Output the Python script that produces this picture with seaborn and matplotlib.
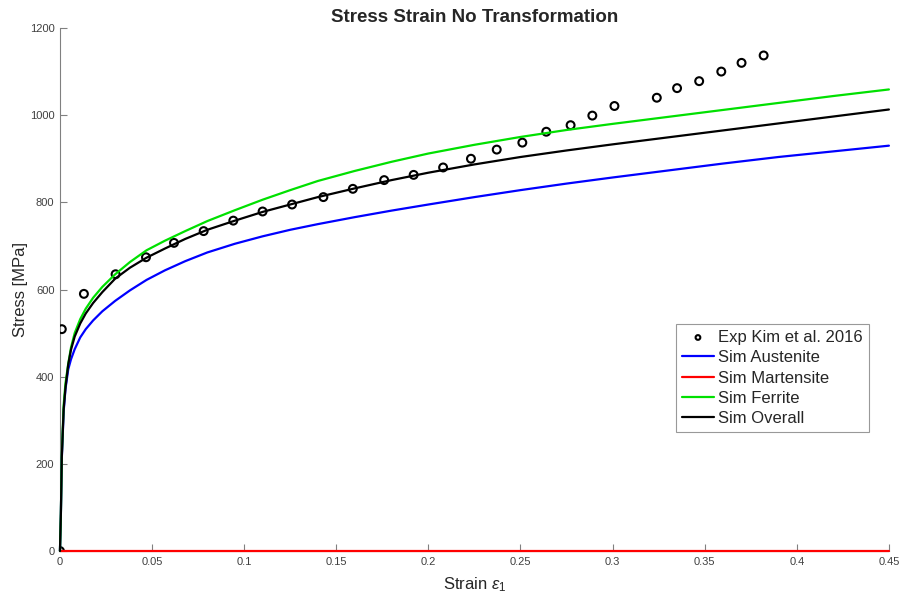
import matplotlib
matplotlib.use("Agg")
import matplotlib.pyplot as plt
import seaborn as sns
import pandas as pd

# Experimental data (Kim et al. 2016)
exp_strain = [0.0, 0.001, 0.013, 0.0302, 0.0467, 0.0619, 0.078, 0.0941, 0.110, 0.126,
              0.143, 0.159, 0.176, 0.192, 0.208, 0.2231, 0.2371, 0.251, 0.264, 0.2772,
              0.289, 0.301, 0.324, 0.335, 0.347, 0.359, 0.370, 0.382]
exp_stress = [0, 509, 590, 635, 674, 707, 734, 758, 779, 795,
              812, 831, 851, 863, 880, 900, 921, 937, 962, 977,
              999, 1021, 1040, 1062, 1078, 1100, 1120, 1137]

# Simulated curves
sim_strain = [0.0, 0.0005, 0.001, 0.002, 0.003, 0.0045, 0.006, 0.008, 0.011, 0.014,
              0.018, 0.023, 0.03, 0.038, 0.047, 0.057, 0.068, 0.08, 0.095, 0.11,
              0.125, 0.14, 0.16, 0.18, 0.2, 0.225, 0.25, 0.275, 0.3, 0.33,
              0.36, 0.39, 0.42, 0.45]
austenite = [0, 85, 212, 320, 372, 417, 440, 463, 490, 509,
             529, 550, 574, 598, 622, 644, 665, 685, 705, 722,
             737, 750, 766, 781, 795, 812, 828, 843, 857, 873,
             889, 904, 917, 930]
martensite = [0] * len(sim_strain)
ferrite = [0, 85, 220, 335, 385, 430, 467, 500, 532, 556,
           581, 606, 635, 663, 690, 712, 734, 757, 782, 806,
           828, 849, 872, 893, 912, 932, 950, 966, 980, 996,
           1012, 1028, 1044, 1059]
overall = [0, 85, 215, 325, 375, 428, 462, 492, 522, 545,
           569, 594, 625, 650, 673, 694, 716, 737, 758, 778,
           795, 812, 832, 851, 868, 887, 904, 919, 933, 949,
           965, 981, 997, 1013]

series_names = ["Sim Austenite", "Sim Martensite", "Sim Ferrite", "Sim Overall"]
series_colors = ["#0000FF", "#FF0000", "#00E000", "#000000"]

sns.set_style("white")
plt.rcParams["font.family"] = ["Liberation Sans", "DejaVu Sans"]
plt.rcParams["mathtext.fontset"] = "custom"
plt.rcParams["mathtext.it"] = "Liberation Sans:italic"
plt.rcParams["mathtext.rm"] = "Liberation Sans"

fig = plt.figure(figsize=(9.03, 6.02), dpi=100)
ax = fig.add_axes([0.0664, 0.0847, 0.918, 0.8688])

exp_df = pd.DataFrame({"strain": exp_strain, "stress": exp_stress})
sns.scatterplot(data=exp_df, x="strain", y="stress", ax=ax, marker="o", s=32,
                facecolor="none", edgecolor="black", linewidth=1.5,
                label="Exp Kim et al. 2016", zorder=3)

for name, vals, col in zip(series_names, [austenite, martensite, ferrite, overall], series_colors):
    df = pd.DataFrame({"strain": sim_strain, "stress": vals})
    sns.lineplot(data=df, x="strain", y="stress", ax=ax, color=col, linewidth=1.6,
                 label=name, zorder=4, clip_on=False)

ax.set_xlim(0, 0.45)
ax.set_ylim(0, 1200)
ax.set_xticks([0, 0.05, 0.1, 0.15, 0.2, 0.25, 0.3, 0.35, 0.4, 0.45])
ax.set_xticklabels(["0", "0.05", "0.1", "0.15", "0.2", "0.25", "0.3", "0.35", "0.4", "0.45"])
ax.set_yticks([0, 200, 400, 600, 800, 1000, 1200])

for s in ["top", "right"]:
    ax.spines[s].set_visible(False)
for s in ["left", "bottom"]:
    ax.spines[s].set_color("#808080")
    ax.spines[s].set_linewidth(0.8)
ax.tick_params(axis="both", which="major", direction="in", length=5, width=0.8,
               color="#808080", labelsize=8, labelcolor="#404040", pad=4,
               bottom=True, left=True, top=False, right=False)

ax.set_xlabel(r"Strain $\epsilon_1$", fontsize=12, color="#262626", labelpad=6)
ax.set_ylabel("Stress [MPa]", fontsize=12, color="#262626", labelpad=1)
ax.set_title("Stress Strain No Transformation", fontsize=13.5, fontweight="bold", pad=4)

leg = ax.legend(loc="upper left", bbox_to_anchor=(0.743, 0.434), borderaxespad=0,
                fontsize=12, frameon=True, fancybox=False, handlelength=1.95,
                handletextpad=0.25, labelspacing=0.32, borderpad=0.35, markerscale=0.6)
leg.get_frame().set_edgecolor("#808080")
leg.get_frame().set_linewidth(0.8)

fig.savefig("out.png", dpi=100)
